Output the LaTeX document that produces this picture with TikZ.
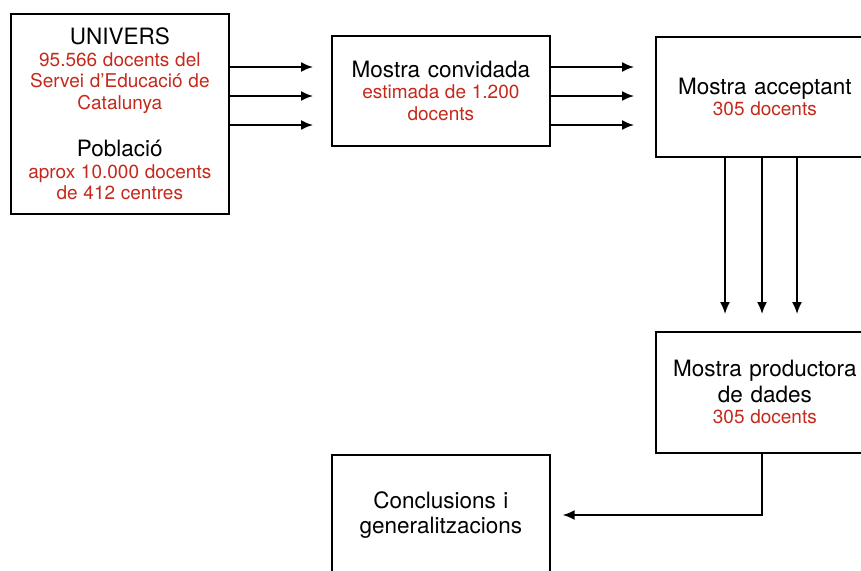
\documentclass[tikz,border=0pt]{standalone}
\usepackage{fontspec}
\setmainfont{TeX Gyre Heros}
\usetikzlibrary{arrows.meta}
\definecolor{note}{RGB}{196,41,28}
% heading lines and red detail lines, each set as its own paragraph
\newcommand{\ttl}[1]{{\fontsize{22.5}{25.5}\selectfont\spaceskip=0.34em\relax #1\par}}
\newcommand{\sub}[1]{{\fontsize{19}{21.5}\selectfont\spaceskip=0.30em\relax\color{note}#1\par}}
\begin{document}
\begin{tikzpicture}[x=1pt,y=-1pt,
  stage/.style={draw, line width=1.7pt, inner sep=0pt, align=center,
    minimum width=218pt, text width=216pt, anchor=north west},
  arr/.style={line width=1.8pt, -{Latex[length=12pt,width=10pt]}}]
\useasboundingbox (0,0) rectangle (861,570);
\clip (0,0) rectangle (861,570);

\node[stage, minimum height=200pt] (univ) at (10,13)
  {\ttl{UNIVERS}
   \sub{95.566 docents del\\Servei d’Educació de\\Catalunya}
   \vspace{22pt}
   \ttl{Població}
   \sub{aprox 10.000 docents\\de 412 centres}};

\node[stage, minimum height=110pt] (conv) at (331,35)
  {\ttl{Mostra convidada}
   \sub{estimada de 1.200\\docents}};

\node[stage, minimum height=120pt] (acc) at (655,36)
  {\ttl{Mostra acceptant}
   \sub{305 docents}};

\node[stage, minimum height=121pt] (prod) at (655,331)
  {\ttl{Mostra productora\\de dades}
   \sub{305 docents}};

\node[stage, minimum height=120pt] (concl) at (331,454)
  {\ttl{Conclusions i\\generalitzacions}};

% three flows between the top stages
\foreach \yy in {67,96,125}{
  \draw[arr, shorten >=18pt] (univ.east |- 0,\yy) -- (conv.west |- 0,\yy);
  \draw[arr, shorten >=21pt] (conv.east |- 0,\yy) -- (acc.west |- 0,\yy);
}
% three flows down to the producing sample
\foreach \xx in {725,762,797}{
  \draw[arr, shorten >=17pt] (acc.south -| \xx,0) -- (prod.north -| \xx,0);
}
% back to the conclusions
\coordinate (bend) at (762,515);
\draw[arr, shorten >=12pt] (prod.south -| bend) -- (bend) -- (concl.east |- bend);
\end{tikzpicture}
\end{document}
